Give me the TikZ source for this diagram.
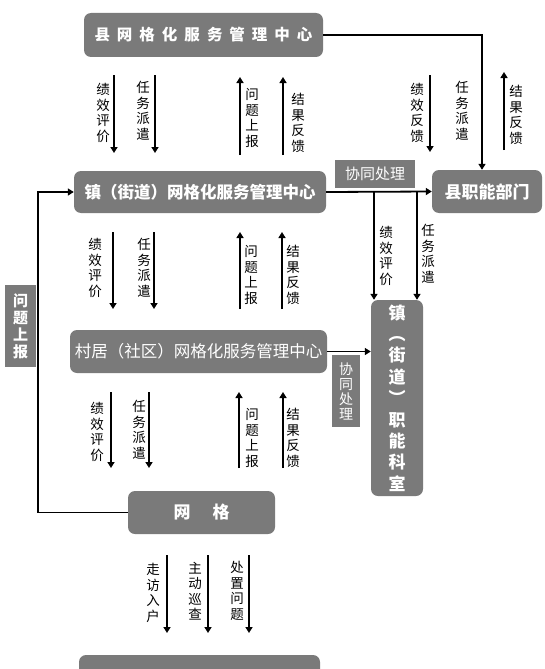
\documentclass[tikz,border=0pt]{standalone}
\usepackage{fontspec}
\setmainfont{Noto Sans CJK SC}
\usetikzlibrary{arrows.meta,calc}
\definecolor{boxgray}{RGB}{122,122,122}
\tikzset{
  box/.style={fill=boxgray, rounded corners=7pt, text=white, inner sep=0pt},
  sqbox/.style={fill=boxgray, text=white, inner sep=0pt},
  arr/.style={line width=1.8pt, -{Triangle[width=7pt,length=6pt]}},
  lbl/.style={align=center, inner sep=0pt, font=\fontsize{13.5}{15.5}\selectfont},
}
\begin{document}
\begin{tikzpicture}[x=1pt,y=-1pt]
\useasboundingbox (0,0) rectangle (545,669);

% main boxes
\node[box, minimum width=239pt, minimum height=44pt, font=\bfseries\fontsize{15.5}{18}\selectfont] (b1) at (203.5,35)
  {县\hspace{7pt}网\hspace{7pt}格\hspace{7pt}化\hspace{7pt}服\hspace{7pt}务\hspace{7pt}管\hspace{7pt}理\hspace{7pt}中\hspace{7pt}心};
\node[box, minimum width=252pt, minimum height=42pt, font=\bfseries\fontsize{16.5}{18}\selectfont] (b2) at (200,192)
  {镇（街道）网格化服务管理中心};
\node[sqbox, minimum width=80pt, minimum height=28pt, font=\fontsize{15}{17}\selectfont] (xt1) at (375,174) {协同处理};
\node[box, minimum width=110pt, minimum height=43pt, font=\bfseries\fontsize{17}{19}\selectfont] (xj) at (487,191.5) {县职能部门};
\node[box, minimum width=257pt, minimum height=43pt, font=\fontsize{16.5}{18}\selectfont] (b3) at (198.5,351.5)
  {村居（社区）网格化服务管理中心};
\node[box, minimum width=52pt, minimum height=196pt, align=center, font=\bfseries\fontsize{17}{21.4}\selectfont] (ks) at (397,398)
  {镇\\︵\\街\\道\\︶\\职\\能\\科\\室};
\node[sqbox, minimum width=28pt, minimum height=72pt, align=center, font=\fontsize{14}{15}\selectfont] (xt2) at (346,391)
  {协\\同\\处\\理};
\node[sqbox, minimum width=31pt, minimum height=82pt, align=center, font=\bfseries\fontsize{15}{17}\selectfont] (wt) at (20.5,326)
  {问\\题\\上\\报};
\node[box, minimum width=147pt, minimum height=43pt, font=\bfseries\fontsize{17}{19}\selectfont] (wg) at (201.5,512.5)
  {网\hspace{22pt}格};
\begin{scope}
  \clip (0,0) rectangle (545,669);
  \node[box, minimum width=241pt, minimum height=44pt] (bot) at (199.5,677) {};
\end{scope}

% connectors between boxes
\draw[arr] (b1.east) -| ([xshift=-5pt]xj.north);
\draw[arr] (b2.east) -- (xj.west);
\coordinate (j1) at (374,192);
\coordinate (j2) at (417,192);
\draw[arr] (j1) -- (j1 |- ks.north);
\draw[arr] (j2) -- (j2 |- ks.north);
\draw[arr] (b3.east) -- (b3.east -| ks.west);
\coordinate (lx) at (38,0);
\draw[arr] (wg.west) -- (wg.west -| lx) |- (b2.west);

% vertical flow arrows
\foreach \n/\x/\ya/\yb in {
  r1a/114/75/153, r1b/155/75/153, r1c/240/155/77, r1d/283/155/77,
  r1e/430/75/152, r1f/504/150/72,
  r2a/113/232/309, r2b/154/232/309, r2c/240/309/232, r2d/282/309/232,
  r3a/111/392/468, r3b/149/392/468, r3c/239/468/392, r3d/283/468/392,
  r4a/167/555/633, r4b/208/555/633, r4c/249/555/633}
{
  \coordinate (\n s) at (\x,\ya);
  \coordinate (\n e) at (\x,\yb);
  \draw[arr] (\n s) -- (\n e);
}

% labels
\foreach \n/\x/\y/\t in {
  l1a/103/113/绩\\效\\评\\价, l1b/143/111/任\\务\\派\\遣,
  l1c/252/118/问\\题\\上\\报, l1d/298/123/结\\果\\反\\馈,
  l1e/417/113/绩\\效\\反\\馈, l1f/462/111/任\\务\\派\\遣,
  l1g/516/115/结\\果\\反\\馈,
  l2a/95/268/绩\\效\\评\\价, l2b/144/268/任\\务\\派\\遣,
  l2c/251/275/问\\题\\上\\报, l2d/293/275/结\\果\\反\\馈,
  l2e/386/256/绩\\效\\评\\价, l2f/428/254/任\\务\\派\\遣,
  l3a/97/432/绩\\效\\评\\价, l3b/139/430/任\\务\\派\\遣,
  l3c/252/438/问\\题\\上\\报, l3d/293/438/结\\果\\反\\馈,
  l4a/153/593/走\\访\\入\\户, l4b/195/591/主\\动\\巡\\查,
  l4c/237/591/处\\置\\问\\题}
{
  \node[lbl] (\n) at (\x,\y) {\t};
}
\end{tikzpicture}
\end{document}
